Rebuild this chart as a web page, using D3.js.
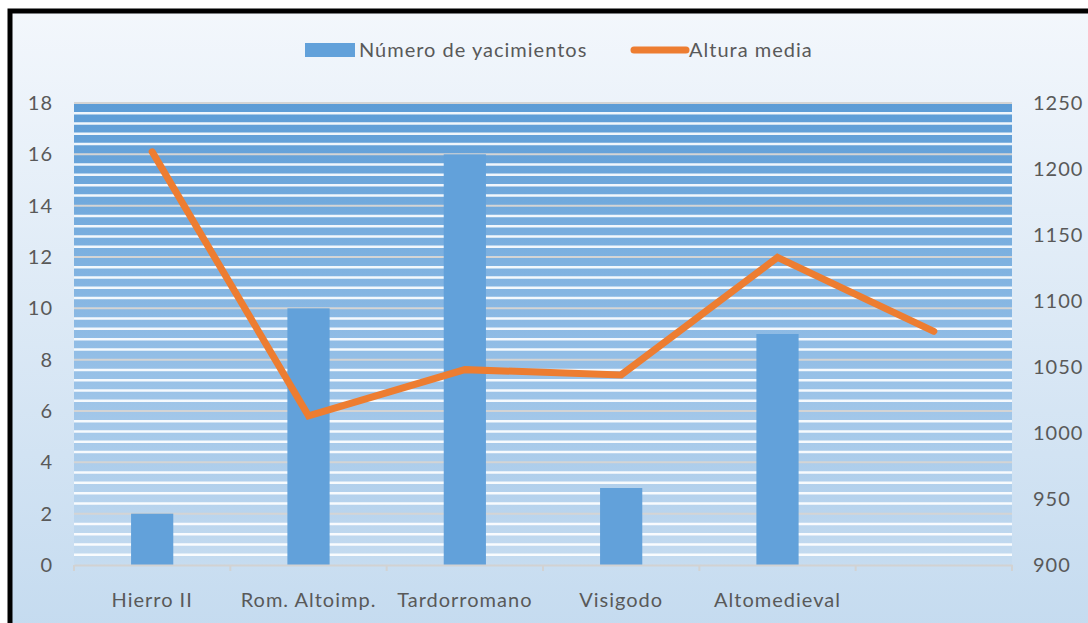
<!DOCTYPE html>
<html>
<head>
<meta charset="utf-8">
<script src="https://cdn.jsdelivr.net/npm/d3@7"></script>
<style>
  html, body { margin: 0; padding: 0; background: #fff; }
  svg { display: block; }
</style>
</head>
<body>
<svg id="chart" width="1088" height="623"></svg>
<script>
// data
const categories = ["Hierro II", "Rom. Altoimp.", "Tardorromano", "Visigodo", "Altomedieval", ""];
const yacimientos = [2, 10, 16, 3, 9, null];
const alturaMedia = [1213, 1013, 1048, 1044, 1133, 1077];
const leftTicks = [0, 2, 4, 6, 8, 10, 12, 14, 16, 18];
const rightTicks = [900, 950, 1000, 1050, 1100, 1150, 1200, 1250];
const legendLabels = ["Número de yacimientos", "Altura media"];

const svg = d3.select("#chart");
const W = 1088, H = 623;
const plot = { left: 74, right: 1012, top: 103, bottom: 565 };
const font = "Lato, 'Open Sans', sans-serif";
const textColor = "#595959";
const fs = 20, ls = "1px";

const defs = svg.append("defs");
const bg = defs.append("linearGradient").attr("id", "bgGrad")
  .attr("x1", 0).attr("y1", 0).attr("x2", 0).attr("y2", 1);
bg.append("stop").attr("offset", "0%").attr("stop-color", "#f3f7fc");
bg.append("stop").attr("offset", "100%").attr("stop-color", "#c3daef");

const pg = defs.append("linearGradient").attr("id", "plotGrad")
  .attr("x1", 0).attr("y1", 0).attr("x2", 0).attr("y2", 1);
pg.append("stop").attr("offset", "0%").attr("stop-color", "#5c9cd6");
pg.append("stop").attr("offset", "55%").attr("stop-color", "#93bee6");
pg.append("stop").attr("offset", "100%").attr("stop-color", "#c6dcf0");

// background + border
svg.append("rect").attr("x", 0).attr("y", 0).attr("width", W).attr("height", H).attr("fill", "#fff");
svg.append("rect").attr("x", 10).attr("y", 11).attr("width", W + 20).attr("height", H + 20)
  .attr("fill", "url(#bgGrad)").attr("stroke", "#000").attr("stroke-width", 5);

// scales
const x = d3.scaleBand().domain(d3.range(categories.length)).range([plot.left, plot.right]).padding(0);
const yL = d3.scaleLinear().domain([0, 18]).range([plot.bottom, plot.top]);
const yR = d3.scaleLinear().domain([900, 1250]).range([plot.bottom, plot.top]);

// plot area striped fill
svg.append("rect").attr("x", plot.left).attr("y", plot.top)
  .attr("width", plot.right - plot.left).attr("height", plot.bottom - plot.top)
  .attr("fill", "url(#plotGrad)");

const minor = d3.range(0, 18, 0.4).filter(v => Math.abs(v / 2 - Math.round(v / 2)) > 0.01);
svg.append("g").selectAll("line").data(minor).join("line")
  .attr("x1", plot.left).attr("x2", plot.right)
  .attr("y1", d => yL(d)).attr("y2", d => yL(d))
  .attr("stroke", "#ffffff").attr("stroke-opacity", 0.9).attr("stroke-width", 2.5);

svg.append("g").selectAll("line").data(leftTicks.slice(1)).join("line")
  .attr("x1", plot.left).attr("x2", plot.right)
  .attr("y1", d => yL(d)).attr("y2", d => yL(d))
  .attr("stroke", "#d4d4d4").attr("stroke-width", 2);

// bars
const barW = x.bandwidth() * 0.27;
svg.append("g").selectAll("rect")
  .data(yacimientos.map((v, i) => ({ v, i })).filter(d => d.v != null))
  .join("rect")
  .attr("x", d => x(d.i) + x.bandwidth() / 2 - barW / 2)
  .attr("y", d => yL(d.v))
  .attr("width", barW)
  .attr("height", d => yL(0) - yL(d.v))
  .attr("fill", "#62a1da");

// x axis
const xAxis = svg.append("g").attr("transform", `translate(0,${plot.bottom})`)
  .call(d3.axisBottom(x).tickSize(0).tickFormat(i => categories[i]));
xAxis.select(".domain").attr("stroke", "#d2d2d2").attr("stroke-width", 2);
xAxis.selectAll("text").attr("font-family", font).attr("font-size", fs)
  .attr("letter-spacing", ls).attr("fill", textColor).attr("dy", 0).attr("y", 42);
svg.append("g").selectAll("line").data(d3.range(categories.length + 1)).join("line")
  .attr("x1", i => plot.left + i * x.bandwidth()).attr("x2", i => plot.left + i * x.bandwidth())
  .attr("y1", plot.bottom).attr("y2", plot.bottom + 6)
  .attr("stroke", "#d2d2d2").attr("stroke-width", 2);

// left axis
const left = svg.append("g").attr("transform", `translate(${plot.left},0)`)
  .call(d3.axisLeft(yL).tickValues(leftTicks).tickSize(0).tickPadding(21));
left.select(".domain").remove();
left.selectAll("text").attr("font-family", font).attr("font-size", fs)
  .attr("letter-spacing", ls).attr("fill", textColor);

// right axis
const right = svg.append("g").attr("transform", `translate(${plot.right},0)`)
  .call(d3.axisRight(yR).tickValues(rightTicks).tickFormat(d3.format("d")).tickSize(0).tickPadding(21));
right.select(".domain").remove();
right.selectAll("text").attr("font-family", font).attr("font-size", fs)
  .attr("letter-spacing", ls).attr("fill", textColor);

// line
const line = d3.line()
  .x((d, i) => x(i) + x.bandwidth() / 2)
  .y(d => yR(d));
svg.append("path").datum(alturaMedia)
  .attr("d", line)
  .attr("fill", "none")
  .attr("stroke", "#ed7d31")
  .attr("stroke-width", 7)
  .attr("stroke-linecap", "round")
  .attr("stroke-linejoin", "miter");

// legend
const lg = svg.append("g");
lg.append("rect").attr("x", 305).attr("y", 43).attr("width", 50).attr("height", 14).attr("fill", "#62a1da");
lg.append("text").attr("x", 359).attr("y", 57).text(legendLabels[0])
  .attr("font-family", font).attr("font-size", fs).attr("letter-spacing", ls).attr("fill", textColor);
lg.append("line").attr("x1", 634).attr("x2", 686).attr("y1", 50).attr("y2", 50)
  .attr("stroke", "#ed7d31").attr("stroke-width", 7).attr("stroke-linecap", "round");
lg.append("text").attr("x", 689).attr("y", 57).text(legendLabels[1])
  .attr("font-family", font).attr("font-size", fs).attr("letter-spacing", ls).attr("fill", textColor);
</script>
</body>
</html>
